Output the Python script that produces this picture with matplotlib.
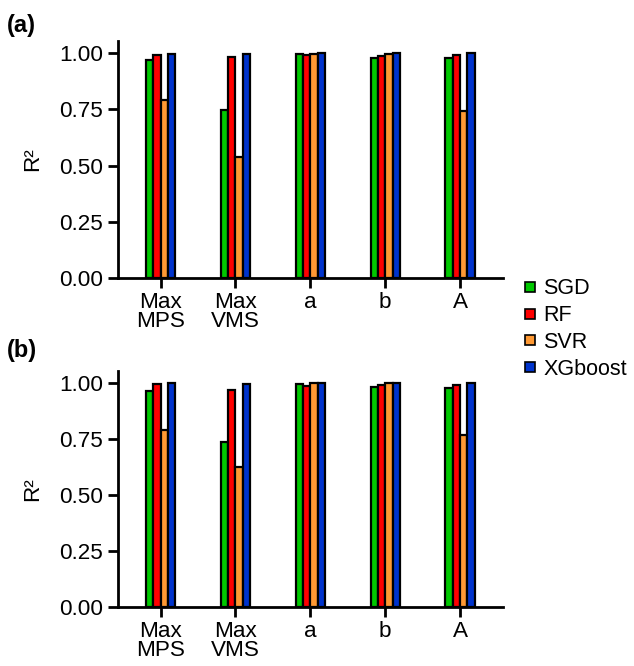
import numpy as np
import matplotlib.pyplot as plt
from matplotlib.lines import Line2D

plt.rcParams['font.family'] = ['Liberation Sans', 'DejaVu Sans']

categories = ['Max\nMPS', 'Max\nVMS', 'a', 'b', 'A']
models = ['SGD', 'RF', 'SVR', 'XGboost']
colors = ['#00c800', '#ff0000', '#ff9933', '#0033cc']

# panel (a)
r2_a = {
    'SGD':     [0.969, 0.749, 0.995, 0.979, 0.981],
    'RF':      [0.991, 0.983, 0.991, 0.988, 0.991],
    'SVR':     [0.792, 0.538, 0.998, 0.997, 0.741],
    'XGboost': [0.997, 0.996, 1.000, 1.000, 1.000],
}
# panel (b)
r2_b = {
    'SGD':     [0.966, 0.736, 0.997, 0.984, 0.976],
    'RF':      [0.994, 0.970, 0.988, 0.990, 0.990],
    'SVR':     [0.792, 0.624, 0.999, 0.999, 0.768],
    'XGboost': [0.999, 0.994, 1.000, 1.000, 1.000],
}

fs = 15.5
tfs = 16.2
fig = plt.figure(figsize=(6.34, 6.66), dpi=100)
ax_a = fig.add_axes([0.186, 0.5826, 0.607, 0.356])
ax_b = fig.add_axes([0.186, 0.0885, 0.607, 0.355])

x = np.arange(len(categories))
w = 0.098
for ax, data, tag in [(ax_a, r2_a, '(a)'), (ax_b, r2_b, '(b)')]:
    for i, m in enumerate(models):
        ax.bar(x + (i - 1.5) * w, data[m], w, color=colors[i],
               edgecolor='black', linewidth=1.6)
    ax.set_xlim(-0.57, 4.57)
    ax.set_ylim(0, 1.055)
    ax.set_yticks([0, 0.25, 0.5, 0.75, 1.0])
    ax.set_yticklabels(['0.00', '0.25', '0.50', '0.75', '1.00'])
    ax.set_xticks(x)
    ax.set_xticklabels(categories, linespacing=0.88)
    ax.tick_params(labelsize=tfs, width=2, length=7.5, direction='out')
    ax.tick_params(axis='x', pad=2.5)
    ax.tick_params(axis='y', pad=3)
    for s in ['top', 'right']:
        ax.spines[s].set_visible(False)
    for s in ['left', 'bottom']:
        ax.spines[s].set_linewidth(2)
    ax.set_ylabel('R²', fontsize=tfs, labelpad=12)

fig.text(0.011, 0.961, '(a)', fontsize=17, fontweight='bold', va='center')
fig.text(0.011, 0.474, '(b)', fontsize=17, fontweight='bold', va='center')

handles = [Line2D([], [], marker='s', linestyle='none', markersize=7.8,
                  markerfacecolor=c, markeredgecolor='black', markeredgewidth=1.2)
           for c in colors]
fig.legend(handles, models, loc='center left', bbox_to_anchor=(0.826, 0.506),
           frameon=False, fontsize=fs, handlelength=0.55, handletextpad=0.35,
           labelspacing=0.27, borderpad=0, borderaxespad=0)

fig.savefig('out.png', dpi=100)
